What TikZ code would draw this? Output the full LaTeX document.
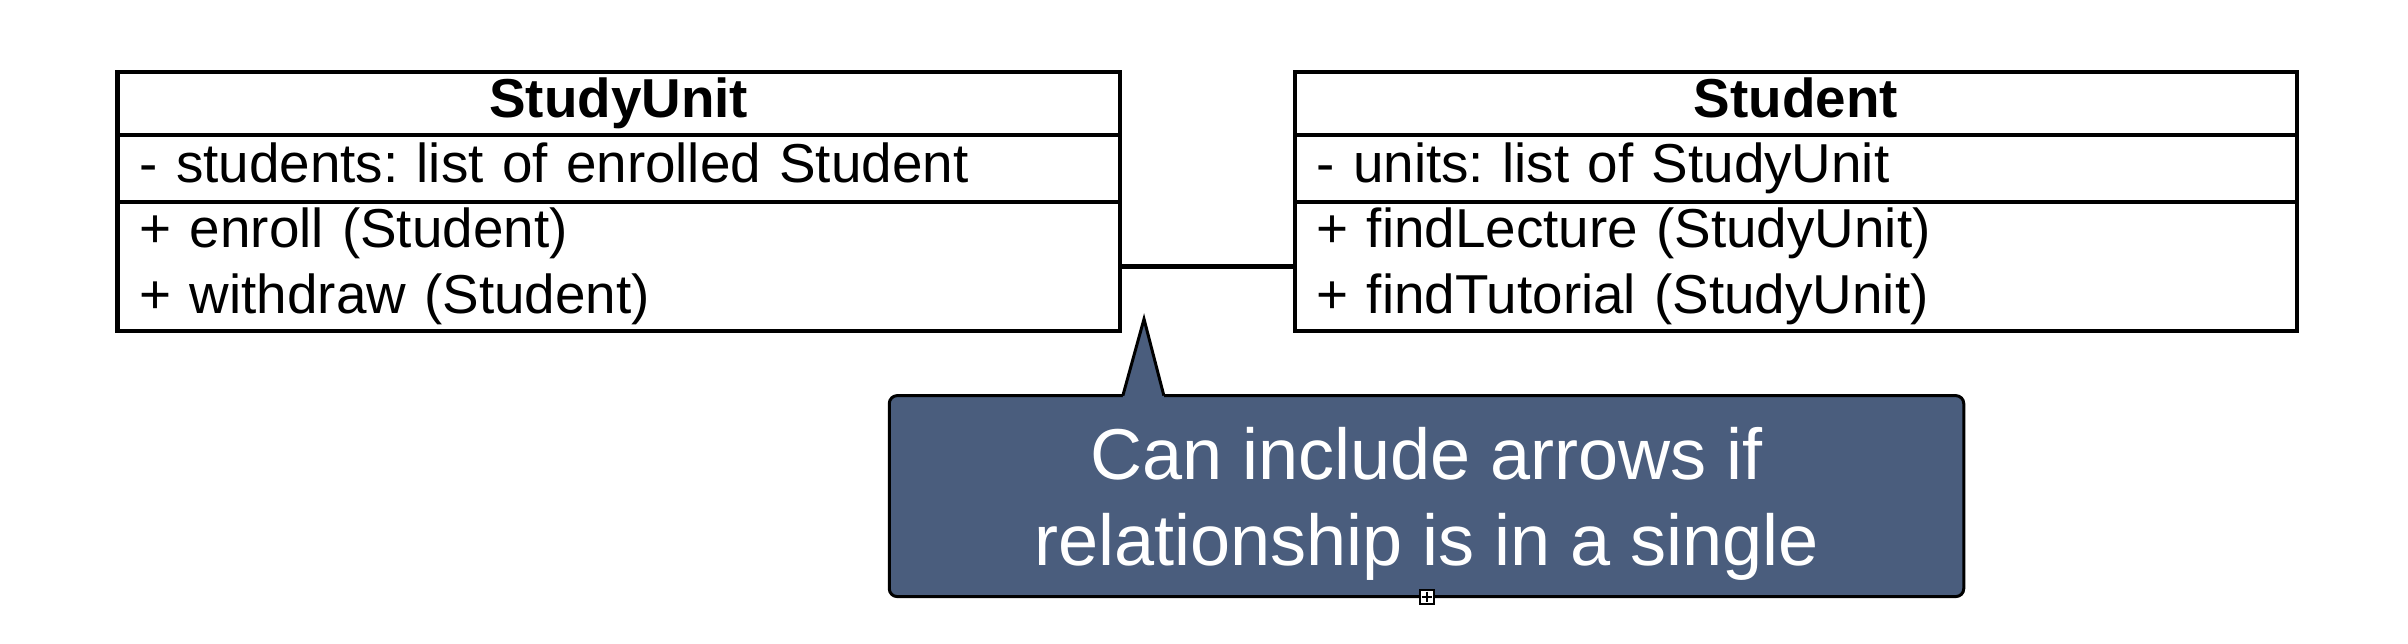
\documentclass[tikz,border=0pt]{standalone}
\usepackage{fontspec}
\setmainfont{Liberation Sans}
\usepackage{xcolor}
\usetikzlibrary{calc}
\usetikzlibrary{positioning}
\definecolor{noteblue}{RGB}{74,93,125}
\frenchspacing

\begin{document}
\begin{tikzpicture}[
  umlbox/.style={draw=black, line width=1.15pt, outer sep=0pt, inner ysep=0pt,
    inner xsep=0.22cm, text width=9.585cm, minimum width=10.025cm,
    font=\fontsize{15.6pt}{18.7pt}\selectfont},
  umlhead/.style={umlbox, minimum height=0.636cm, align=center,
    text height=0.4125cm, text depth=0.1375cm,
    font=\fontsize{15.6pt}{18.7pt}\selectfont\bfseries},
  umlattr/.style={umlbox, minimum height=0.664cm, align=left,
    text height=0.4125cm, text depth=0.1375cm},
  umlops/.style={umlbox, minimum height=1.296cm, align=left},
  umlline/.style={draw=black, line width=1.2pt},
  notebox/.style={draw=black, fill=noteblue, line width=0.85pt, outer sep=0pt,
    rounded corners=0.08cm, minimum width=10.745cm, minimum height=2.01cm},
  notetext/.style={text=white, align=center, inner sep=0pt,
    font=\fontsize{20.5pt}{24.5pt}\selectfont}
]

\useasboundingbox (0,0) rectangle (24.08,-6.43);

% StudyUnit class
\node[umlhead, anchor=north west] (suHead) at (1.175,-0.717) {StudyUnit};
\node[umlattr, below=0pt of suHead] (suAttr) {- students: list of enrolled Student};
\node[umlops, below=0pt of suAttr] (suOps) {+ enroll (Student)\\+ withdraw (Student)};

% Student class
\node[umlhead, anchor=north west] (stHead) at (12.946,-0.717) {Student};
\node[umlattr, below=0pt of stHead] (stAttr) {- units: list of StudyUnit};
\node[umlops, below=0pt of stAttr] (stOps) {+ findLecture (StudyUnit)\\+ findTutorial (StudyUnit)};

% association
\draw[umlline] (suOps.east) -- (stOps.west);

% callout
\node[notebox] (note) at (14.265,-4.961) {};
\coordinate (tip) at (11.44,-3.19);
\coordinate (tipL) at ($(note.north west)+(2.336,0)$);
\coordinate (tipR) at ($(note.north west)+(2.746,0)$);
\fill[noteblue] (tipL) -- (tip) -- (tipR) -- ([yshift=-2pt]tipR) -- ([yshift=-2pt]tipL) -- cycle;
\draw[black, line width=0.85pt, line join=miter] (tipL) -- (tip) -- (tipR);
\node[notetext] (noteText) at ([yshift=-0.08cm]note.center)
  {Can include arrows if\\relationship is in a single};

% resize handle
\node[draw=black, fill=white, line width=0.5pt, inner sep=0pt, minimum size=0.14cm] (handle) at (14.27,-5.97) {};
\draw[line width=0.4pt] ([yshift=-0.025cm]handle.north) -- ([yshift=0.025cm]handle.south);
\draw[line width=0.4pt] ([xshift=0.025cm]handle.west) -- ([xshift=-0.025cm]handle.east);
\end{tikzpicture}
\end{document}
